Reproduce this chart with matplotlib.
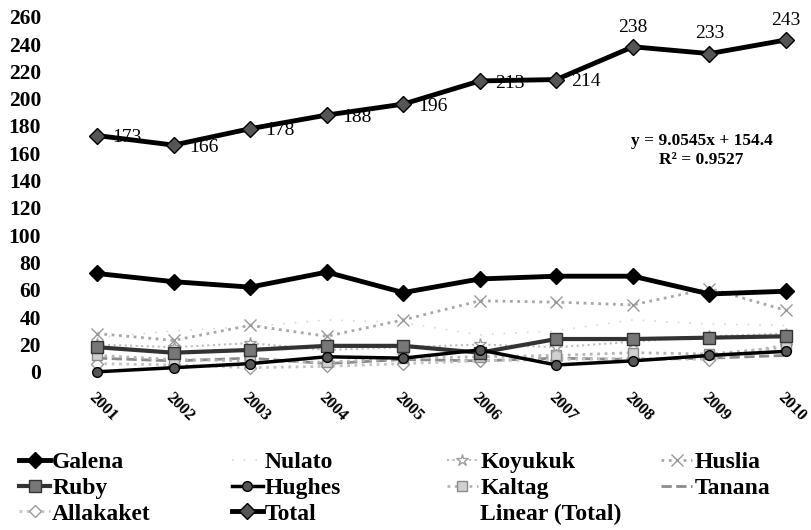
import numpy as np
import matplotlib.pyplot as plt

years = ['2001', '2002', '2003', '2004', '2005', '2006', '2007', '2008', '2009', '2010']
galena = [72, 66, 62, 73, 58, 68, 70, 70, 57, 59]
nulato = [25, 30, 33, 38, 36, 27, 30, 38, 35, 34]
koyukuk = [20, 18, 21, 16, 18, 20, 18, 22, 26, 28]
huslia = [28, 23, 34, 26, 38, 52, 51, 49, 61, 45]
ruby = [18, 14, 16, 19, 19, 14, 24, 24, 25, 26]
hughes = [0, 3, 6, 11, 10, 16, 5, 8, 12, 15]
kaltag = [12, 9, 8, 7, 10, 11, 12, 14, 13, 18]
tanana = [10, 8, 10, 6, 9, 8, 10, 9, 10, 12]
allakaket = [6, 5, 3, 4, 6, 8, 9, 10, 9, 20]
total = [173, 166, 178, 188, 196, 213, 214, 238, 233, 243]
yticks = list(range(0, 261, 20))

x = np.arange(1, len(years) + 1)
slope, intercept = np.polyfit(x, total, 1)
fit = slope * x + intercept
r2 = 1 - np.sum((np.array(total) - fit) ** 2) / np.sum((np.array(total) - np.mean(total)) ** 2)

plt.rcParams['font.family'] = ['Liberation Serif', 'DejaVu Serif']

fig = plt.figure(figsize=(8.12, 5.30), dpi=100)
ax = fig.add_axes([55 / 812, 1 - 380 / 530, 745 / 812, 366 / 530])

h = {}
h['Tanana'], = ax.plot(x, tanana, color='#8c8c8c', lw=2, ls='--')
h['Allakaket'], = ax.plot(x, allakaket, color='#c4c4c4', lw=2, ls=':', marker='D', ms=6, mfc='white', mec='#9a9a9a')
h['Kaltag'], = ax.plot(x, kaltag, color='#b5b5b5', lw=2, ls=':', marker='s', ms=7, mfc='#d0d0d0', mec='#8a8a8a')
h['Nulato'], = ax.plot(x, nulato, color='#d8d8d8', lw=1.2, ls=(0, (1, 6)))
h['Koyukuk'], = ax.plot(x, koyukuk, color='#bdbdbd', lw=1.5, ls=':', marker='*', ms=9, mfc='white', mec='#a0a0a0')
h['Huslia'], = ax.plot(x, huslia, color='#a8a8a8', lw=2, ls=':', marker='x', ms=9, mec='#999999')
h['Ruby'], = ax.plot(x, ruby, color='#333333', lw=3, marker='s', ms=9, mfc='#777777', mec='#333333')
h['Hughes'], = ax.plot(x, hughes, color='black', lw=2.5, marker='o', ms=7, mfc='#555555', mec='black')
h['Galena'], = ax.plot(x, galena, color='black', lw=3.5, marker='D', ms=8, mfc='black', mec='black')
h['Linear (Total)'], = ax.plot(x, fit, color='white', lw=1)
h['Total'], = ax.plot(x, total, color='black', lw=3.5, marker='D', ms=8, mfc='#555555', mec='black')

# data labels on the Total series
above = {7, 8, 9}
for i, v in enumerate(total):
    if i in above:
        ax.annotate(str(v), (x[i], v), xytext=(0, 8), textcoords='offset points',
                    ha='center', va='bottom', fontsize=14)
    else:
        ax.annotate(str(v), (x[i], v), xytext=(11, -1.5), textcoords='offset points',
                    ha='left', va='center', fontsize=14)

ax.text(0.868, 1 - (141 - 14) / 366, 'y = %.4fx + %.1f' % (slope, intercept),
        transform=ax.transAxes, ha='center', va='center', fontsize=12.5, fontweight='bold')
ax.text(0.868, 1 - (160 - 14) / 366, 'R² = %.4f' % r2,
        transform=ax.transAxes, ha='center', va='center', fontsize=12.5, fontweight='bold')

ax.set_xlim(1 - 42 / 76.56, 10 + 14 / 76.56)
ax.set_ylim(-6, 262)
ax.set_yticks(yticks)
ax.set_yticklabels([str(t) for t in yticks], fontsize=15.5, fontweight='bold')
ax.set_xticks(x)
ax.set_xticklabels(years, rotation=-45, ha='left', va='top', rotation_mode='anchor',
                   fontsize=12, fontweight='bold')
ax.tick_params(length=0, axis='y', pad=10)
ax.tick_params(length=0, axis='x', pad=7)
for s in ax.spines.values():
    s.set_visible(False)

# legend laid out row by row: one legend per column
cols = [['Galena', 'Ruby', 'Allakaket'],
        ['Nulato', 'Hughes', 'Total'],
        ['Koyukuk', 'Kaltag', 'Linear (Total)'],
        ['Huslia', 'Tanana']]
xs = [0.012, 0.274, 0.539, 0.803]
for names, xx in zip(cols, xs):
    fig.legend([h[n] for n in names], names, loc='upper left', bbox_to_anchor=(xx, 0.166),
               frameon=False, handlelength=1.3, handletextpad=0.1, labelspacing=0.18,
               prop={'family': 'Liberation Serif', 'weight': 'bold', 'size': 17},
               borderaxespad=0)

fig.savefig('out.png', dpi=100)
